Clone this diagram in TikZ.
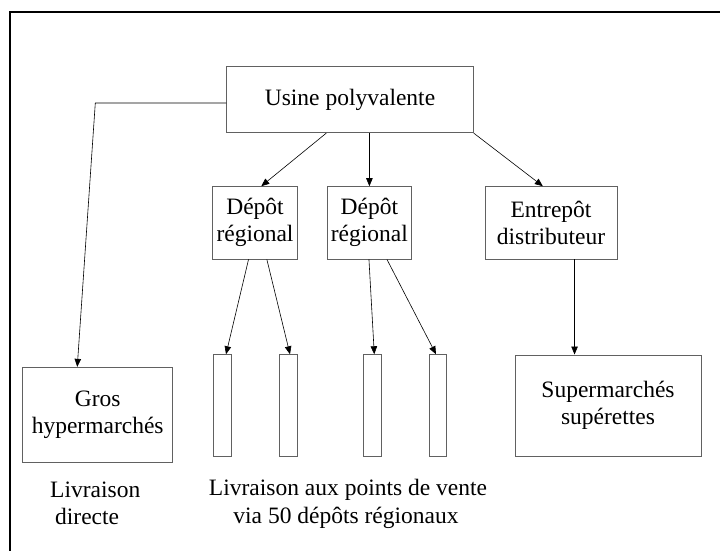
\documentclass[tikz,border=0pt]{standalone}
\usepackage{fontspec}
\setmainfont{Liberation Serif}
\usetikzlibrary{arrows.meta}
\tikzset{
  box/.style={draw=black!62, line width=0.9pt, inner sep=0pt, align=center,
    font=\fontsize{23.5}{27}\selectfont},
  bar/.style={draw=black!62, line width=0.9pt, inner sep=0pt, minimum width=17.5pt, minimum height=101.8pt},
  arr/.style={draw=black, line width=0.6pt, -{Triangle[length=8pt,width=6.5pt]}},
  lbl/.style={inner sep=0pt, anchor=base, font=\fontsize{23.5}{27}\selectfont},
}
\begin{document}
\begin{tikzpicture}[x=1pt,y=-1pt]
\useasboundingbox (0,0) rectangle (720,550);
\begin{scope}
\clip (0,0) rectangle (720,550);
\draw[line width=2.3pt] (10,12.3) rectangle (760,600);
\end{scope}
% boxes
\node[box, minimum width=246.6pt, minimum height=66pt] (usine) at (350,99.7) {Usine polyvalente};
\node[box, minimum width=84.6pt, minimum height=72.3pt] (d1) at (255,222.8) {Dépôt\\régional};
\node[box, minimum width=84pt, minimum height=72.3pt] (d2) at (369.4,222.8) {Dépôt\\régional};
\node[box, minimum width=132pt, minimum height=72.3pt] (ent) at (551,222.8) {Entrepôt\\distributeur};
\node[box, minimum width=150pt, minimum height=95.4pt] (gros) at (97.7,415) {Gros\\hypermarchés};
\node[box, minimum width=186pt, minimum height=101.7pt] (sup) at (608,405.8) {Supermarchés\\supérettes};
\node[bar] (b1) at (222.3,405.6) {};
\node[bar] (b2) at (288.3,405.6) {};
\node[bar] (b3) at (372.5,405.6) {};
\node[bar] (b4) at (438,405.6) {};
% labels
\node[lbl, anchor=base west] (ld1) at (50,497) {Livraison};
\node[lbl, anchor=base west] (ld2) at (55,524) {directe};
\node[lbl] (lp1) at (348,495) {Livraison aux points de vente};
\node[lbl] (lp2) at (346,523) {via 50 dépôts régionaux};
% connectors
\coordinate (corner) at (95.3,103);
\draw[arr] (usine.west |- corner) -- (corner) -- ([xshift=55pt]gros.north west);
\draw[arr] ([xshift=100pt]usine.south west) -- ([xshift=49pt]d1.north west);
\draw[arr] (d2.north |- usine.south) -- (d2.north);
\draw[arr] (usine.south east) -- ([xshift=58.3pt]ent.north west);
\draw[arr] ([xshift=36.3pt]d1.south west) -- ([xshift=3.7pt]b1.north);
\draw[arr] ([xshift=54.6pt]d1.south west) -- ([xshift=1.7pt]b2.north);
\draw[arr] ([xshift=42pt]d2.south west) -- ([xshift=1.8pt]b3.north);
\draw[arr] ([xshift=60pt]d2.south west) -- ([xshift=-2pt]b4.north);
\draw[arr] ([xshift=90pt]ent.south west) -- ([xshift=60pt]sup.north west);
\end{tikzpicture}
\end{document}
